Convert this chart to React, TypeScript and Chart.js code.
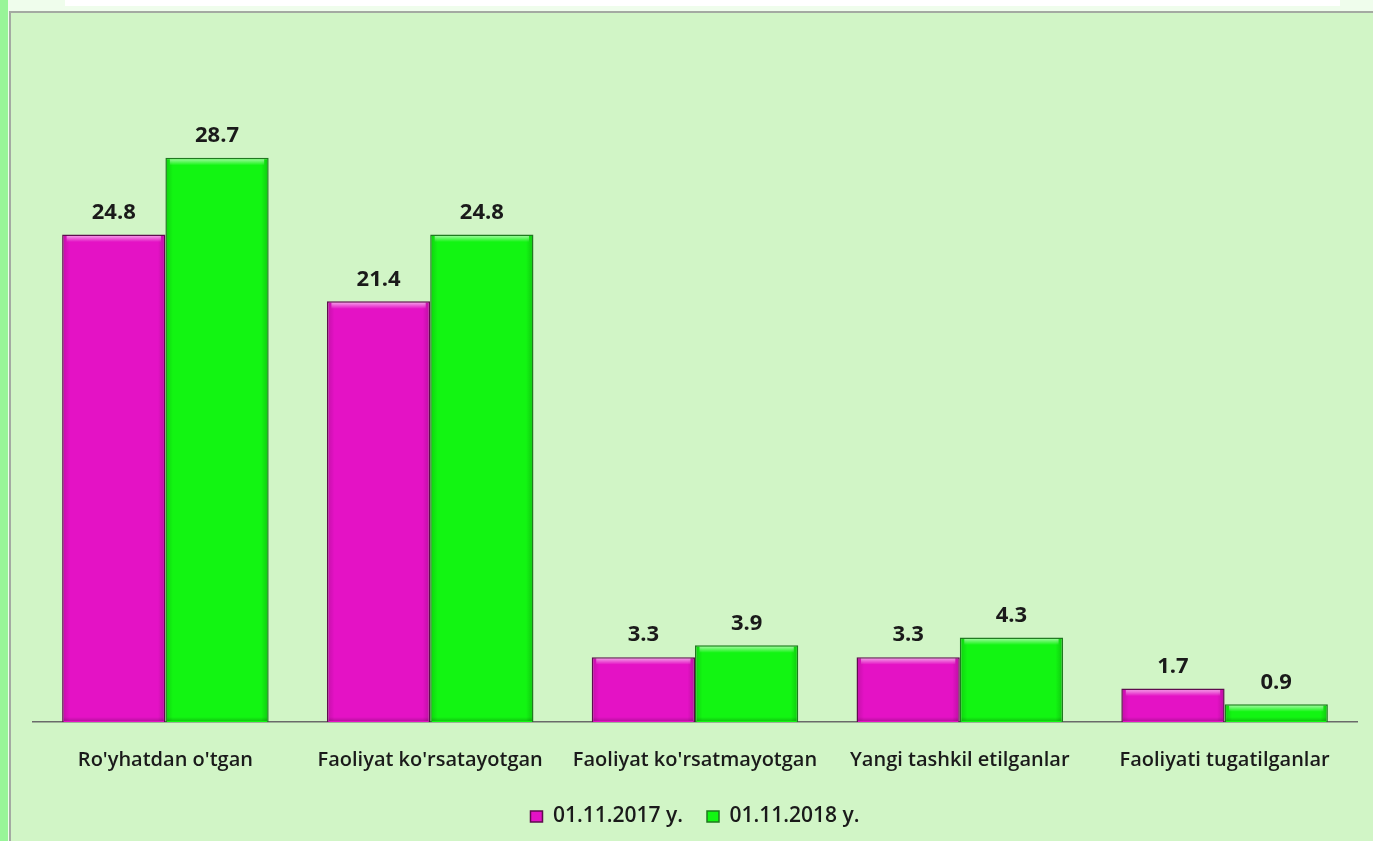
import React, { useEffect, useRef } from "react";
import { Chart, registerables } from "chart.js";

Chart.register(...registerables);

const categories = [
  "Ro'yhatdan o'tgan",
  "Faoliyat ko'rsatayotgan",
  "Faoliyat ko'rsatmayotgan",
  "Yangi tashkil etilganlar",
  "Faoliyati tugatilganlar",
];
const series2017 = [24.8, 21.4, 3.3, 3.3, 1.7];
const series2018 = [28.7, 24.8, 3.9, 4.3, 0.9];
const seriesNames = ["01.11.2017 y.", "01.11.2018 y."];

const FONT = "'Open Sans', Lato, sans-serif";

const bevel = {
  id: "bevel",
  afterDatasetsDraw(chart: any) {
    const ctx = chart.ctx;
    ctx.save();
    chart.data.datasets.forEach((_ds: any, i: number) => {
      const meta = chart.getDatasetMeta(i);
      meta.data.forEach((el: any) => {
        const left = el.x - el.width / 2 + 1.5;
        const right = el.x + el.width / 2 - 1.5;
        const top = el.y + 1.5;
        const bottom = el.base - 1;
        const w = right - left;
        const g = ctx.createLinearGradient(left, 0, right, 0);
        g.addColorStop(0, "rgba(0,0,0,0.12)");
        g.addColorStop(0.06, "rgba(0,0,0,0)");
        g.addColorStop(0.94, "rgba(0,0,0,0)");
        g.addColorStop(1, "rgba(0,0,0,0.15)");
        ctx.fillStyle = g;
        ctx.fillRect(left, top, w, bottom - top);
        const h = Math.min(6, bottom - top);
        const tg = ctx.createLinearGradient(0, top, 0, top + h);
        tg.addColorStop(0, "rgba(255,255,255,0.55)");
        tg.addColorStop(1, "rgba(255,255,255,0)");
        ctx.fillStyle = tg;
        ctx.fillRect(left + 3, top, w - 6, h);
        const bg = ctx.createLinearGradient(0, bottom - 4, 0, bottom);
        bg.addColorStop(0, "rgba(0,0,0,0)");
        bg.addColorStop(1, "rgba(0,0,0,0.18)");
        ctx.fillStyle = bg;
        ctx.fillRect(left, bottom - 4, w, 4);
      });
    });
    ctx.restore();
  },
};

const valueLabels = {
  id: "valueLabels",
  afterDatasetsDraw(chart: any) {
    const ctx = chart.ctx;
    ctx.save();
    ctx.font = `bold 22px ${FONT}`;
    ctx.fillStyle = "#1a1a1a";
    ctx.textAlign = "center";
    ctx.textBaseline = "middle";
    chart.data.datasets.forEach((ds: any, i: number) => {
      const meta = chart.getDatasetMeta(i);
      meta.data.forEach((el: any, j: number) => {
        ctx.fillText(Number(ds.data[j]).toFixed(1), el.x, el.y - 22);
      });
    });
    ctx.restore();
  },
};

export default function App() {
  const ref = useRef<HTMLCanvasElement>(null);
  useEffect(() => {
    document.body.style.margin = "0";
    const chart = new Chart(ref.current!, {
      type: "bar",
      data: {
        labels: categories,
        datasets: [
          {
            label: seriesNames[0],
            data: series2017,
            backgroundColor: "#e412c5",
            borderColor: "#5e0c4e",
            borderWidth: 1.5,
          },
          {
            label: seriesNames[1],
            data: series2018,
            backgroundColor: "#12f512",
            borderColor: "#1f7a1f",
            borderWidth: 1.5,
          },
        ],
      },
      options: {
        animation: false,
        responsive: false,
        maintainAspectRatio: false,
        layout: { padding: { left: 33, right: 16, top: 34, bottom: 4 } },
        datasets: {
          bar: { categoryPercentage: 0.78, barPercentage: 1 },
        },
        scales: {
          x: {
            afterFit(scale: any) {
              scale.height -= 16;
            },
            grid: { display: false, drawTicks: false },
            border: { display: true, color: "#6a6a6a", width: 1.5 },
            ticks: {
              padding: 26,
              color: "#1a1a1a",
              font: { family: FONT, size: 20, weight: 600 },
            },
          },
          y: {
            display: false,
            min: 0,
            max: 35,
          },
        },
        plugins: {
          legend: {
            position: "bottom",
            labels: {
              boxWidth: 12,
              boxHeight: 11,
              color: "#1a1a1a",
              padding: 24,
              font: { family: FONT, size: 21, weight: 600 },
            },
          },
          tooltip: { enabled: false },
        },
      },
      plugins: [bevel, valueLabels],
    });
    return () => chart.destroy();
  }, []);

  return (
    <div style={{ position: "fixed", left: 0, top: 0, width: 1373, height: 841, background: "#effdec", overflow: "hidden" }}>
      <div style={{ position: "absolute", left: 65, top: 0, width: 1275, height: 6, background: "#ffffff" }} />
      <div style={{ position: "absolute", left: 0, top: 0, width: 8, height: 841, background: "#98f598" }} />
      <div
        style={{
          position: "absolute",
          left: 9,
          top: 11,
          width: 1364,
          height: 830,
          background: "#d1f5c6",
          borderTop: "2px solid #a4aaa2",
          borderLeft: "2px solid #a4aaa2",
          boxSizing: "border-box",
        }}
      />
      <canvas ref={ref} width={1373} height={841} style={{ position: "absolute", left: 0, top: 0 }} />
    </div>
  );
}
